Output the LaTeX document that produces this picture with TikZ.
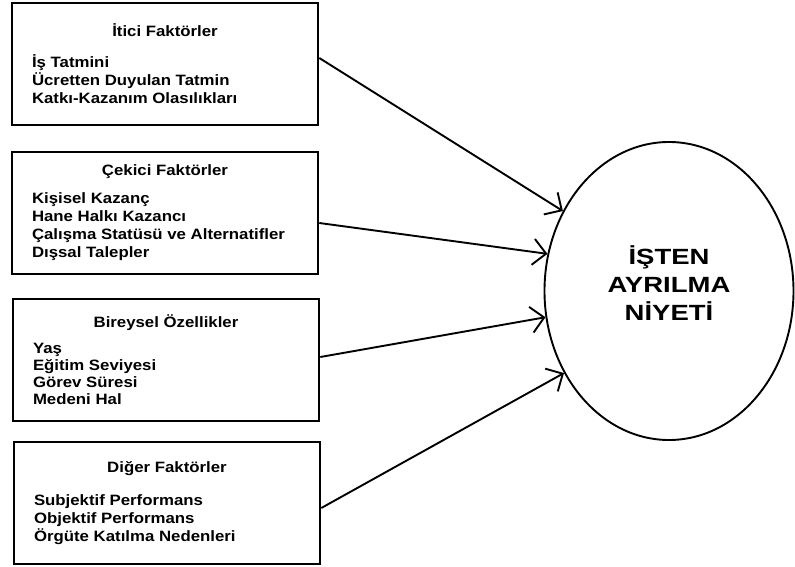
\documentclass[tikz,border=0pt]{standalone}
\usepackage{fontspec}
\setmainfont{Liberation Sans}
\newfontfamily\boxfont{Liberation Sans}[FakeStretch=1.12]
\newfontfamily\ellfont{Liberation Sans}[FakeStretch=1.25]
\usetikzlibrary{shapes.geometric, arrows.meta}
\newlength{\itemw}
\setlength{\itemw}{266pt}

\begin{document}
\begin{tikzpicture}[x=1pt, y=1pt,
    factor/.style={rectangle, draw, line width=2.6pt, minimum width=306pt, minimum height=122pt, inner sep=0pt, align=left, font=\boxfont\bfseries\fontsize{15}{18}\selectfont},
    intent/.style={ellipse, draw, line width=1.9pt, minimum width=249pt, minimum height=298pt, inner sep=0pt, text depth=16pt, align=center, font=\ellfont\bfseries\fontsize{22}{28}\selectfont},
    arr/.style={-{Straight Barb[length=13pt, width=26pt]}, line width=1.9pt},
  ]
    \useasboundingbox (0,0) rectangle (795,-567);

    \node[factor] (itici) at (165,-64) {\makebox[\itemw]{İtici Faktörler}\\[13pt]İş Tatmini\\Ücretten Duyulan Tatmin\\Katkı-Kazanım Olasılıkları};
    \node[factor] (cekici) at (165,-213) {\makebox[\itemw]{Çekici Faktörler}\\[10pt]Kişisel Kazanç\\Hane Halkı Kazancı\\Çalışma Statüsü ve Alternatifler\\Dışsal Talepler};
    \node[factor] (bireysel) at (166,-360) {\makebox[\itemw]{Bireysel Özellikler}\\[8pt]Yaş\\[-1pt]Eğitim Seviyesi\\[-1pt]Görev Süresi\\[-1pt]Medeni Hal};
    \node[factor] (diger) at (167,-503) {\makebox[\itemw]{Diğer Faktörler}\\[15pt]Subjektif Performans\\Objektif Performans\\Örgüte Katılma Nedenleri};
    \node[intent] (niyet) at (669,-291) {İŞTEN\\AYRILMA\\NİYETİ};

    \draw[arr] ([yshift=6pt]itici.east) -- (niyet.143);
    \draw[arr] ([yshift=-10pt]cekici.east) -- (niyet.163);
    \draw[arr] ([yshift=3pt]bireysel.east) -- (niyet.192);
    \draw[arr] ([yshift=-5pt]diger.east) -- (niyet.218);
  \end{tikzpicture}
\end{document}
